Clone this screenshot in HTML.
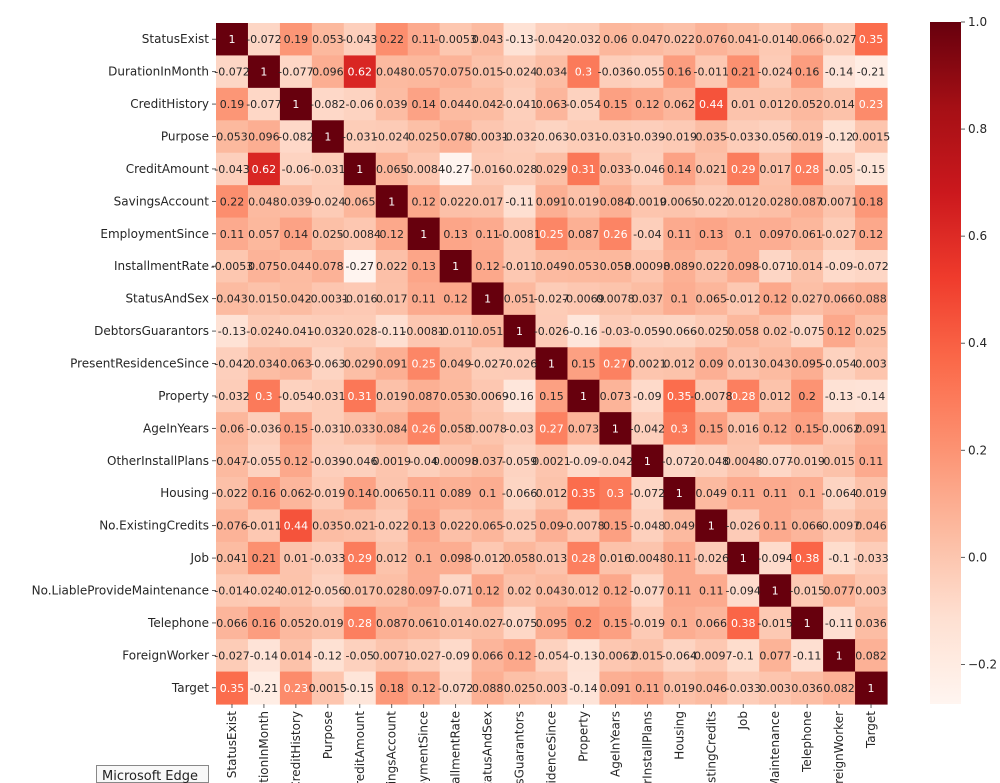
<!DOCTYPE html>
<html><head><meta charset="utf-8">
<style>
html,body{margin:0;padding:0;background:#fff;width:1000px;height:783px;overflow:hidden;}
svg{display:block;font-family:"DejaVu Sans","Liberation Sans",sans-serif;}
</style></head>
<body>
<svg id="chart" width="1000" height="783" viewBox="0 0 1000 783" xmlns="http://www.w3.org/2000/svg" overflow="hidden">
<defs>
<linearGradient id="cbgrad" x1="0" y1="1" x2="0" y2="0"></linearGradient>
<clipPath id="frameclip"><rect x="0" y="0" width="1000" height="783"/></clipPath>
</defs>
<g id="cells"></g>
<g id="ylabels"></g>
<g clip-path="url(#frameclip)"><g id="xlabels"></g></g>
<g id="colorbar"></g>
<g>
<rect x="96.5" y="765.5" width="112" height="17" fill="#f8f8f8" stroke="#888"/>
<text x="102" y="780" font-size="13" fill="#222">Microsoft Edge</text>
</g>
</svg>
<script>
const labels = ["StatusExist","DurationInMonth","CreditHistory","Purpose","CreditAmount","SavingsAccount","EmploymentSince","InstallmentRate","StatusAndSex","DebtorsGuarantors","PresentResidenceSince","Property","AgeInYears","OtherInstallPlans","Housing","No.ExistingCredits","Job","No.LiableProvideMaintenance","Telephone","ForeignWorker","Target"];
const row0 = [1,-0.072,0.19,0.053,-0.043,0.22,0.11,-0.0053,0.043,-0.13,-0.042,-0.032,0.06,0.047,0.022,0.076,0.041,-0.014,0.066,-0.027,0.35];
const row1 = [-0.072,1,-0.077,0.096,0.62,0.048,0.057,0.075,0.015,-0.024,0.034,0.3,-0.036,-0.055,0.16,-0.011,0.21,-0.024,0.16,-0.14,-0.21];
const row2 = [0.19,-0.077,1,-0.082,-0.06,0.039,0.14,0.044,0.042,-0.041,0.063,-0.054,0.15,0.12,0.062,0.44,0.01,0.012,0.052,0.014,0.23];
const row3 = [0.053,0.096,-0.082,1,-0.031,-0.024,0.025,0.078,-0.0031,-0.032,-0.063,-0.031,-0.031,-0.039,-0.019,0.035,-0.033,-0.056,0.019,-0.12,0.0015];
const row4 = [-0.043,0.62,-0.06,-0.031,1,0.065,-0.0084,-0.27,-0.016,-0.028,0.029,0.31,0.033,-0.046,0.14,0.021,0.29,0.017,0.28,-0.05,-0.15];
const row5 = [0.22,0.048,0.039,-0.024,0.065,1,0.12,0.022,0.017,-0.11,0.091,0.019,0.084,0.0019,0.0065,-0.022,0.012,0.028,0.087,0.0071,0.18];
const row6 = [0.11,0.057,0.14,0.025,-0.0084,0.12,1,0.13,0.11,-0.0081,0.25,0.087,0.26,-0.04,0.11,0.13,0.1,0.097,0.061,-0.027,0.12];
const row7 = [-0.0053,0.075,0.044,0.078,-0.27,0.022,0.13,1,0.12,-0.011,0.049,0.053,0.058,0.00098,0.089,0.022,0.098,-0.071,0.014,-0.09,-0.072];
const row8 = [0.043,0.015,0.042,-0.0031,-0.016,0.017,0.11,0.12,1,0.051,-0.027,-0.0069,0.0078,0.037,0.1,0.065,-0.012,0.12,0.027,0.066,0.088];
const row9 = [-0.13,-0.024,-0.041,-0.032,-0.028,-0.11,-0.0081,-0.011,0.051,1,-0.026,-0.16,-0.03,-0.059,-0.066,-0.025,0.058,0.02,-0.075,0.12,0.025];
const row10 = [-0.042,0.034,0.063,-0.063,0.029,0.091,0.25,0.049,-0.027,-0.026,1,0.15,0.27,0.0021,0.012,0.09,0.013,0.043,0.095,-0.054,0.003];
const row11 = [-0.032,0.3,-0.054,-0.031,0.31,0.019,0.087,0.053,-0.0069,-0.16,0.15,1,0.073,-0.09,0.35,-0.0078,0.28,0.012,0.2,-0.13,-0.14];
const row12 = [0.06,-0.036,0.15,-0.031,0.033,0.084,0.26,0.058,0.0078,-0.03,0.27,0.073,1,-0.042,0.3,0.15,0.016,0.12,0.15,-0.0062,0.091];
const row13 = [0.047,-0.055,0.12,-0.039,-0.046,0.0019,-0.04,0.00098,0.037,-0.059,0.0021,-0.09,-0.042,1,-0.072,-0.048,0.0048,-0.077,-0.019,0.015,0.11];
const row14 = [0.022,0.16,0.062,-0.019,0.14,0.0065,0.11,0.089,0.1,-0.066,0.012,0.35,0.3,-0.072,1,0.049,0.11,0.11,0.1,-0.064,0.019];
const row15 = [0.076,-0.011,0.44,0.035,0.021,-0.022,0.13,0.022,0.065,-0.025,0.09,-0.0078,0.15,-0.048,0.049,1,-0.026,0.11,0.066,-0.0097,0.046];
const row16 = [0.041,0.21,0.01,-0.033,0.29,0.012,0.1,0.098,-0.012,0.058,0.013,0.28,0.016,0.0048,0.11,-0.026,1,-0.094,0.38,-0.1,-0.033];
const row17 = [-0.014,-0.024,0.012,-0.056,0.017,0.028,0.097,-0.071,0.12,0.02,0.043,0.012,0.12,-0.077,0.11,0.11,-0.094,1,-0.015,0.077,0.003];
const row18 = [0.066,0.16,0.052,0.019,0.28,0.087,0.061,0.014,0.027,-0.075,0.095,0.2,0.15,-0.019,0.1,0.066,0.38,-0.015,1,-0.11,0.036];
const row19 = [-0.027,-0.14,0.014,-0.12,-0.05,0.0071,-0.027,-0.09,0.066,0.12,-0.054,-0.13,-0.0062,0.015,-0.064,-0.0097,-0.1,0.077,-0.11,1,0.082];
const row20 = [0.35,-0.21,0.23,0.0015,-0.15,0.18,0.12,-0.072,0.088,0.025,0.003,-0.14,0.091,0.11,0.019,0.046,-0.033,0.003,0.036,0.082,1];
const matrix = [row0,row1,row2,row3,row4,row5,row6,row7,row8,row9,row10,row11,row12,row13,row14,row15,row16,row17,row18,row19,row20];
const cbTicks = [1.0,0.8,0.6,0.4,0.2,0.0,-0.2];
const cbTickLabels = ["1.0","0.8","0.6","0.4","0.2","0.0","\u22120.2"];
const vmin = -0.274, vmax = 1;

const NS = "http://www.w3.org/2000/svg";
const gx0 = 216, gx1 = 887, gy0 = 23, gy1 = 704;
const n = labels.length;
const cw = (gx1-gx0)/n, ch = (gy1-gy0)/n;
const xPos = i => gx0 + i*cw;
const yPos = i => gy0 + i*ch;
const stops = [[255,245,240],[254,224,210],[252,187,161],[252,146,114],[251,106,74],[239,59,44],[203,24,29],[165,15,21],[103,0,13]];
function cmap(t){
  t=Math.max(0,Math.min(1,t)); const p=t*8; const i=Math.min(7,Math.floor(p)); const f=p-i;
  return stops[i].map((c,k)=>Math.round(c+(stops[i+1][k]-c)*f));
}
const norm = v => (v-vmin)/(vmax-vmin);
function lum(c){const l=c.map(x=>{x/=255;return x<=0.03928?x/12.92:Math.pow((x+0.055)/1.055,2.4);});return 0.2126*l[0]+0.7152*l[1]+0.0722*l[2];}
function fmt(v){ if(v===1) return "1"; return String(+v.toPrecision(2)); }
function mk(tag,attrs,parent){const e=document.createElementNS(NS,tag);for(const k in attrs)e.setAttribute(k,attrs[k]);parent.appendChild(e);return e;}

const cells=document.getElementById("cells");
for(let r=0;r<n;r++){for(let c=0;c<n;c++){
  const v=matrix[r][c]; const col=cmap(norm(v));
  const rect=mk("rect",{x:xPos(c),y:yPos(r),width:cw+0.6,height:ch+0.6,fill:`rgb(${col})`},cells);
  
  
}}
for(let r=0;r<n;r++){for(let c=0;c<n;c++){
  const v=matrix[r][c]; const col=cmap(norm(v));
  const t=mk("text",{x:xPos(c)+cw/2,y:yPos(r)+ch/2+4,"text-anchor":"middle","font-size":"11",fill:lum(col)>0.408?"#262626":"#ffffff"},cells);
  
  
  t.textContent=fmt(v);
}}
const yl=document.getElementById("ylabels"), xl=document.getElementById("xlabels");
labels.forEach((lab,i)=>{
  const cy=yPos(i)+ch/2;
  const tk=mk("line",{x1:gx0-4,x2:gx0,y1:cy,y2:cy,stroke:"#333","stroke-width":"0.8"},yl);
  
  
  const t=mk("text",{x:gx0-7,y:cy+4,"text-anchor":"end","font-size":"12",fill:"#262626"},yl);
  
  
  t.textContent=lab;
  const cx=xPos(i)+cw/2;
  const tk2=mk("line",{x1:cx,x2:cx,y1:gy1,y2:gy1+4,stroke:"#333","stroke-width":"0.8"},xl);
  
  
  const t2=mk("text",{x:0,y:0,"text-anchor":"end","font-size":"12",fill:"#262626",transform:`translate(${cx+4},${gy1+7}) rotate(-90)`},xl);
  
  
  t2.textContent=lab;
});
const grad=document.getElementById("cbgrad");
for(let k=0;k<=16;k++){const col=cmap(k/16);mk("stop",{offset:(k/16*100)+"%","stop-color":`rgb(${col})`},grad);}
const cb=document.getElementById("colorbar");
const cbx=930, cbw=31, cby0=22, cby1=704;
const cbY = v => cby1 - norm(v)*(cby1-cby0);
const bar=mk("rect",{x:cbx,y:cby0,width:cbw,height:cby1-cby0,fill:"url(#cbgrad)"},cb);


cbTicks.forEach((v,i)=>{
  const y=cbY(v);
  const l=mk("line",{x1:cbx+cbw,x2:cbx+cbw+4,y1:y,y2:y,stroke:"#333","stroke-width":"0.8"},cb);
  
  
  const t=mk("text",{x:cbx+cbw+7,y:y+4,"font-size":"12",fill:"#262626"},cb);
  
  
  t.textContent=cbTickLabels[i];
});
</script>
</body></html>
